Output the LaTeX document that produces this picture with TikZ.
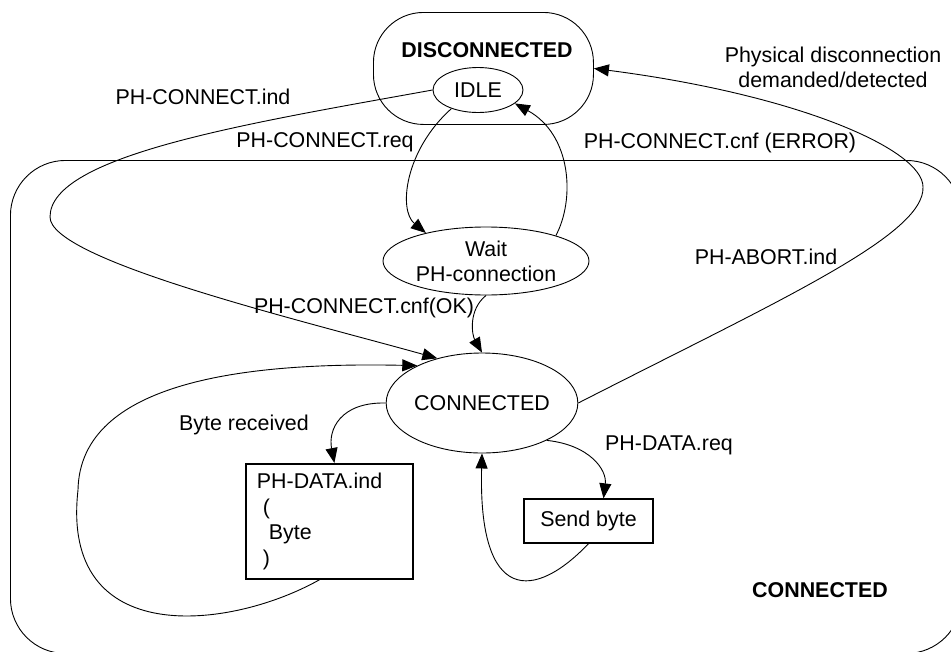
\documentclass[tikz,border=0pt]{standalone}
\usepackage{fontspec}
\setmainfont{Liberation Sans}
\usetikzlibrary{arrows.meta,shapes.geometric}
\begin{document}
\begin{tikzpicture}[x=1pt,y=-1pt,
  font=\fontsize{21.4}{25.7}\selectfont,
  line width=0.9pt,
  st/.style={draw, ellipse, inner sep=0pt, align=center},
  super/.style={draw, rounded corners=#1, anchor=north west, inner sep=0pt},
  tr/.style={-{Triangle[length=15pt,width=12pt]}},
  lbl/.style={inner sep=0pt, align=center}]
\useasboundingbox (0,0) rectangle (951,651);
\clip (0,0) rectangle (951,651);
% superstates
\node[super=55pt, minimum width=951pt, minimum height=493pt] (connbox) at (10,160) {};
\node[super=50pt, minimum width=220pt, minimum height=112pt] (disc) at (373,12) {};
\node[lbl, font=\fontsize{21.4}{25.7}\selectfont\bfseries] (disctext) at (487,50) {DISCONNECTED};
\node[lbl, font=\fontsize{21.4}{25.7}\selectfont\bfseries] (conntext) at (820,590) {CONNECTED};
% states
\node[st, minimum width=90pt, minimum height=45pt] (idle) at (478,90) {IDLE};
\node[st, minimum width=206pt, minimum height=68pt] (wait) at (486,261) {Wait\\[-1pt]PH-connection};
\node[st, minimum width=174pt, minimum height=100pt] (conn) at (482,403) {CONNECTED};
\node[draw, line width=1.8pt, minimum width=167pt, minimum height=115pt, anchor=north west,
      align=left, text width=145pt, inner xsep=11pt, inner ysep=0pt] (dbox) at (245,463)
      {PH-DATA.ind\\\hspace*{6pt}(\\\hspace*{12pt}Byte\\\hspace*{6pt})};
\node[draw, line width=1.3pt, minimum width=129pt, minimum height=44pt, inner sep=0pt] (sbox) at (588.5,521) {Send byte};
% waypoints
\coordinate (wA) at (50,217);
\coordinate (wB) at (923,187);
\coordinate (wC) at (78,490);
% connectors
\draw[tr] (idle.west) .. controls (250,123) and (50,155) .. (wA)
          .. controls (50,260) and (300,320) .. (conn.135);
\draw[tr] (idle.215) .. controls (405,150) and (398,210) .. (wait.155);
\draw[tr] (wait.20) .. controls (575,200) and (572,135) .. (idle.-20);
\draw[tr] (wait.south) .. controls (468,310) and (472,335) .. (conn.north);
\draw[tr] (conn.east) .. controls (780,300) and (925,235) .. (wB)
          .. controls (923,150) and (800,95) .. (disc.east);
\draw[tr] (conn.west) .. controls (340,402) and (328,430) .. ([xshift=5pt]dbox.north);
\draw[tr] ([xshift=-10pt]dbox.south) .. controls (230,630) and (60,650) .. (wC)
          .. controls (80,380) and (250,362) .. (conn.150);
\draw[tr] (conn.-30) .. controls (590,445) and (607,470) .. ([xshift=15pt]sbox.north);
\draw[tr] (sbox.south) .. controls (535,600) and (478,605) .. (conn.south);
% labels
\node[lbl] (l1) at (203,97) {PH-CONNECT.ind};
\node[lbl] (l2) at (325,142) {PH-CONNECT.req};
\node[lbl] (l3) at (720,143) {PH-CONNECT.cnf (ERROR)};
\node[lbl] (l4) at (833,67) {Physical disconnection\\[-1pt]demanded/detected};
\node[lbl] (l5) at (766,257) {PH-ABORT.ind};
\node[lbl] (l6) at (364,308) {PH-CONNECT.cnf(OK)};
\node[lbl] (l7) at (244,425) {Byte received};
\node[lbl] (l8) at (669,445) {PH-DATA.req};
\end{tikzpicture}
\end{document}
